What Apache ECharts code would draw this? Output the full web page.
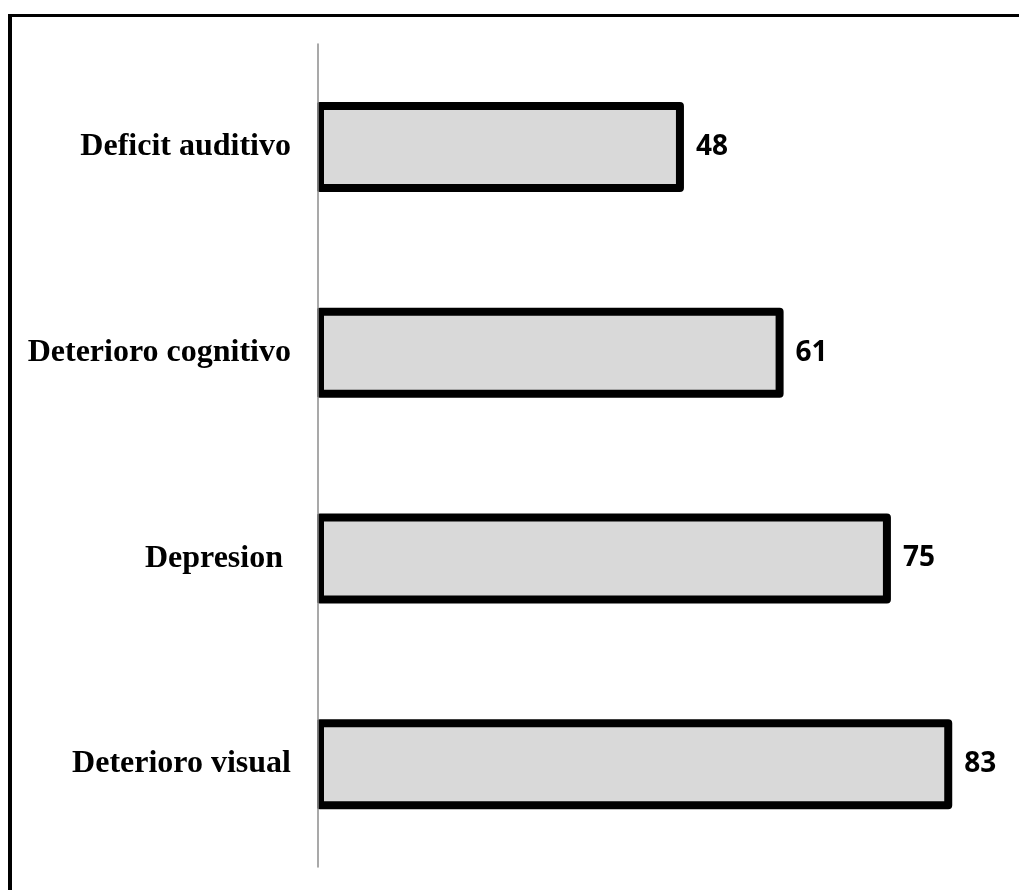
<!DOCTYPE html>
<html>
<head>
<meta charset="utf-8">
<style>
  html, body { margin: 0; padding: 0; background: #ffffff; }
  #chart { width: 1019px; height: 890px; }
</style>
<script src="https://cdn.jsdelivr.net/npm/echarts@6/dist/echarts.min.js"></script>
</head>
<body>
<div id="chart"></div>
<script>
const categories = ["Deficit auditivo", "Deterioro cognitivo", "Depresion ", "Deterioro visual"];
const values = [48, 61, 75, 83];

const chart = echarts.init(document.getElementById('chart'), null, { renderer: 'canvas' });

chart.setOption({
  animation: false,
  backgroundColor: '#ffffff',
  grid: { left: 316, right: 13.1, top: 44, bottom: 23, containLabel: false },
  xAxis: {
    type: 'value', min: 0, max: 90, show: false
  },
  yAxis: {
    type: 'category',
    data: categories,
    inverse: true,
    offset: -2,
    z: 20,
    axisLine: { show: true, lineStyle: { color: '#8c8c8c', width: 1.5 } },
    axisTick: { show: false },
    axisLabel: {
      margin: 27,
      color: '#000000',
      fontFamily: '"Liberation Serif", "Times New Roman", serif',
      fontWeight: 'bold',
      fontSize: 32
    }
  },
  graphic: [
    { type: 'rect', z: 15, shape: { x: 308, y: 44, width: 9.3, height: 823 }, style: { fill: '#ffffff' } },
    { type: 'rect', z: 30, shape: { x: 8, y: 14, width: 1011, height: 3 }, style: { fill: '#000000' } },
    { type: 'rect', z: 30, shape: { x: 8, y: 14, width: 4, height: 876 }, style: { fill: '#000000' } }
  ],
  series: [{
    type: 'bar',
    data: values,
    barWidth: 90,
    z: 2,
    itemStyle: {
      color: '#d9d9d9',
      borderColor: '#000000',
      borderWidth: 8,
      borderJoin: 'round'
    },
    label: {
      show: true,
      position: 'right',
      distance: 12,
      color: '#000000',
      fontFamily: '"Open Sans", "Liberation Sans", sans-serif',
      fontWeight: 'bold',
      fontSize: 28
    }
  }]
});
</script>
</body>
</html>
